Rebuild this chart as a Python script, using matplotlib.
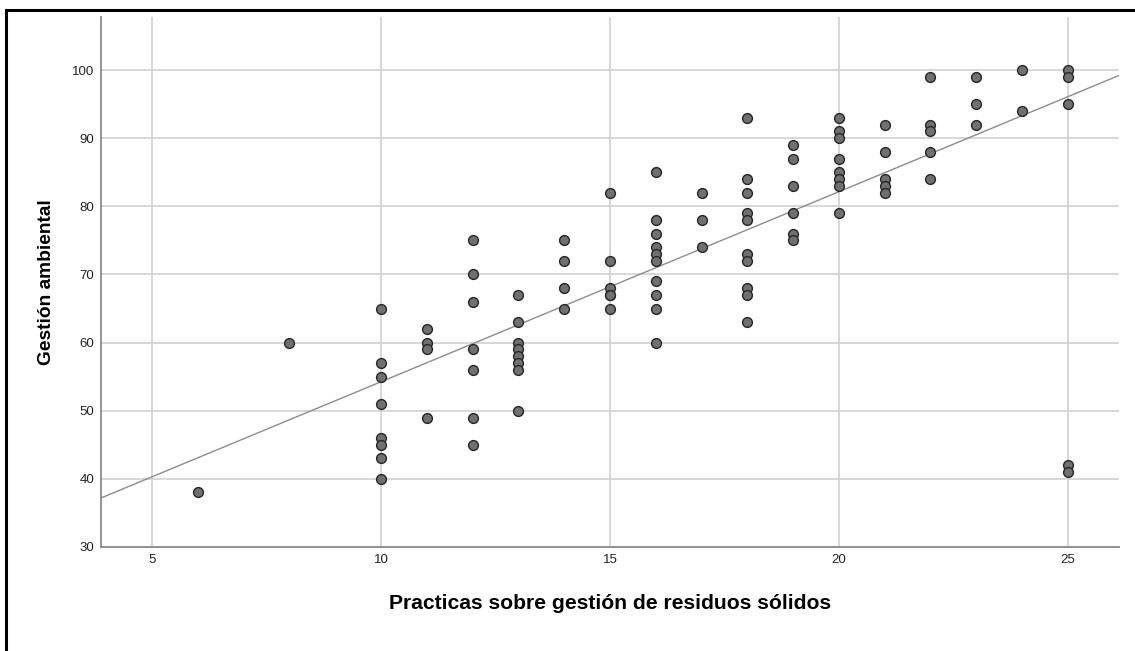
import numpy as np
import matplotlib.pyplot as plt
from matplotlib.patches import Rectangle

plt.rcParams['font.family'] = ['Liberation Sans', 'DejaVu Sans']

# practicas (x) and gestion ambiental (y), one entry per respondent
practicas = [6, 8,
             10, 10, 10, 10, 10, 10, 10, 10,
             11, 11, 11, 11,
             12, 12, 12, 12, 12, 12, 12,
             13, 13, 13, 13, 13, 13, 13, 13,
             14, 14, 14, 14,
             15, 15, 15, 15, 15, 15,
             16, 16, 16, 16, 16, 16, 16, 16, 16, 16,
             17, 17, 17,
             18, 18, 18, 18, 18, 18, 18, 18, 18, 18,
             19, 19, 19, 19, 19, 19,
             20, 20, 20, 20, 20, 20, 20, 20,
             21, 21, 21, 21, 21,
             22, 22, 22, 22, 22,
             23, 23, 23,
             24, 24,
             25, 25, 25, 25, 25]
gestion = [38, 60,
           65, 57, 55, 51, 46, 45, 43, 40,
           62, 60, 59, 49,
           75, 70, 66, 59, 56, 49, 45,
           67, 63, 60, 59, 58, 57, 56, 50,
           75, 72, 68, 65,
           82, 72, 68, 67, 67, 65,
           85, 78, 76, 74, 73, 72, 69, 67, 65, 60,
           82, 78, 74,
           93, 84, 82, 79, 78, 73, 72, 68, 67, 63,
           89, 87, 83, 79, 76, 75,
           93, 91, 90, 87, 85, 84, 83, 79,
           92, 88, 84, 83, 82,
           99, 92, 91, 88, 84,
           99, 95, 92,
           100, 94,
           100, 99, 95, 42, 41]

# linear fit line (total sample)
fit_intercept = 26.35
fit_slope = 2.79

x = np.array(practicas)
y = np.array(gestion)

fig = plt.figure(figsize=(11.35, 6.51), dpi=100)
ax = fig.add_axes([0.089, 0.1598, 0.897, 0.8141])

xmin, xmax = 3.886, 26.12
ax.set_xlim(xmin, xmax)
ax.set_ylim(30, 107.8)

ax.set_xticks([5, 10, 15, 20, 25])
ax.set_yticks(range(30, 101, 10))
ax.grid(True, color='#d4d4d4', linewidth=1.3)
ax.set_axisbelow(True)
ax.tick_params(length=0, labelsize=9.5, colors='#222222', pad=5)

for side in ['top', 'right']:
    ax.spines[side].set_visible(False)
for side in ['left', 'bottom']:
    ax.spines[side].set_color('#8a8a8a')
    ax.spines[side].set_linewidth(1.3)

xl = np.array([xmin, xmax])
ax.plot(xl, fit_intercept + fit_slope * xl, color='#8c8c8c', linewidth=1.0,
        zorder=2)

ax.scatter(x, y, s=50, facecolor='#707070', edgecolor='#262626',
           linewidth=1.0, zorder=3)

ax.set_xlabel('Practicas sobre gestión de residuos sólidos', fontsize=15.2,
              fontweight='bold', labelpad=20)
ax.set_ylabel('Gestión ambiental', fontsize=13.8, fontweight='bold',
              labelpad=12)

# outer frame
fig.patches.append(Rectangle((6 / 1135, -0.1), 1.2, 1.1 - 10 / 651,
                             transform=fig.transFigure, fill=False,
                             edgecolor='black', linewidth=2.2))

fig.savefig('out.png', dpi=100)
